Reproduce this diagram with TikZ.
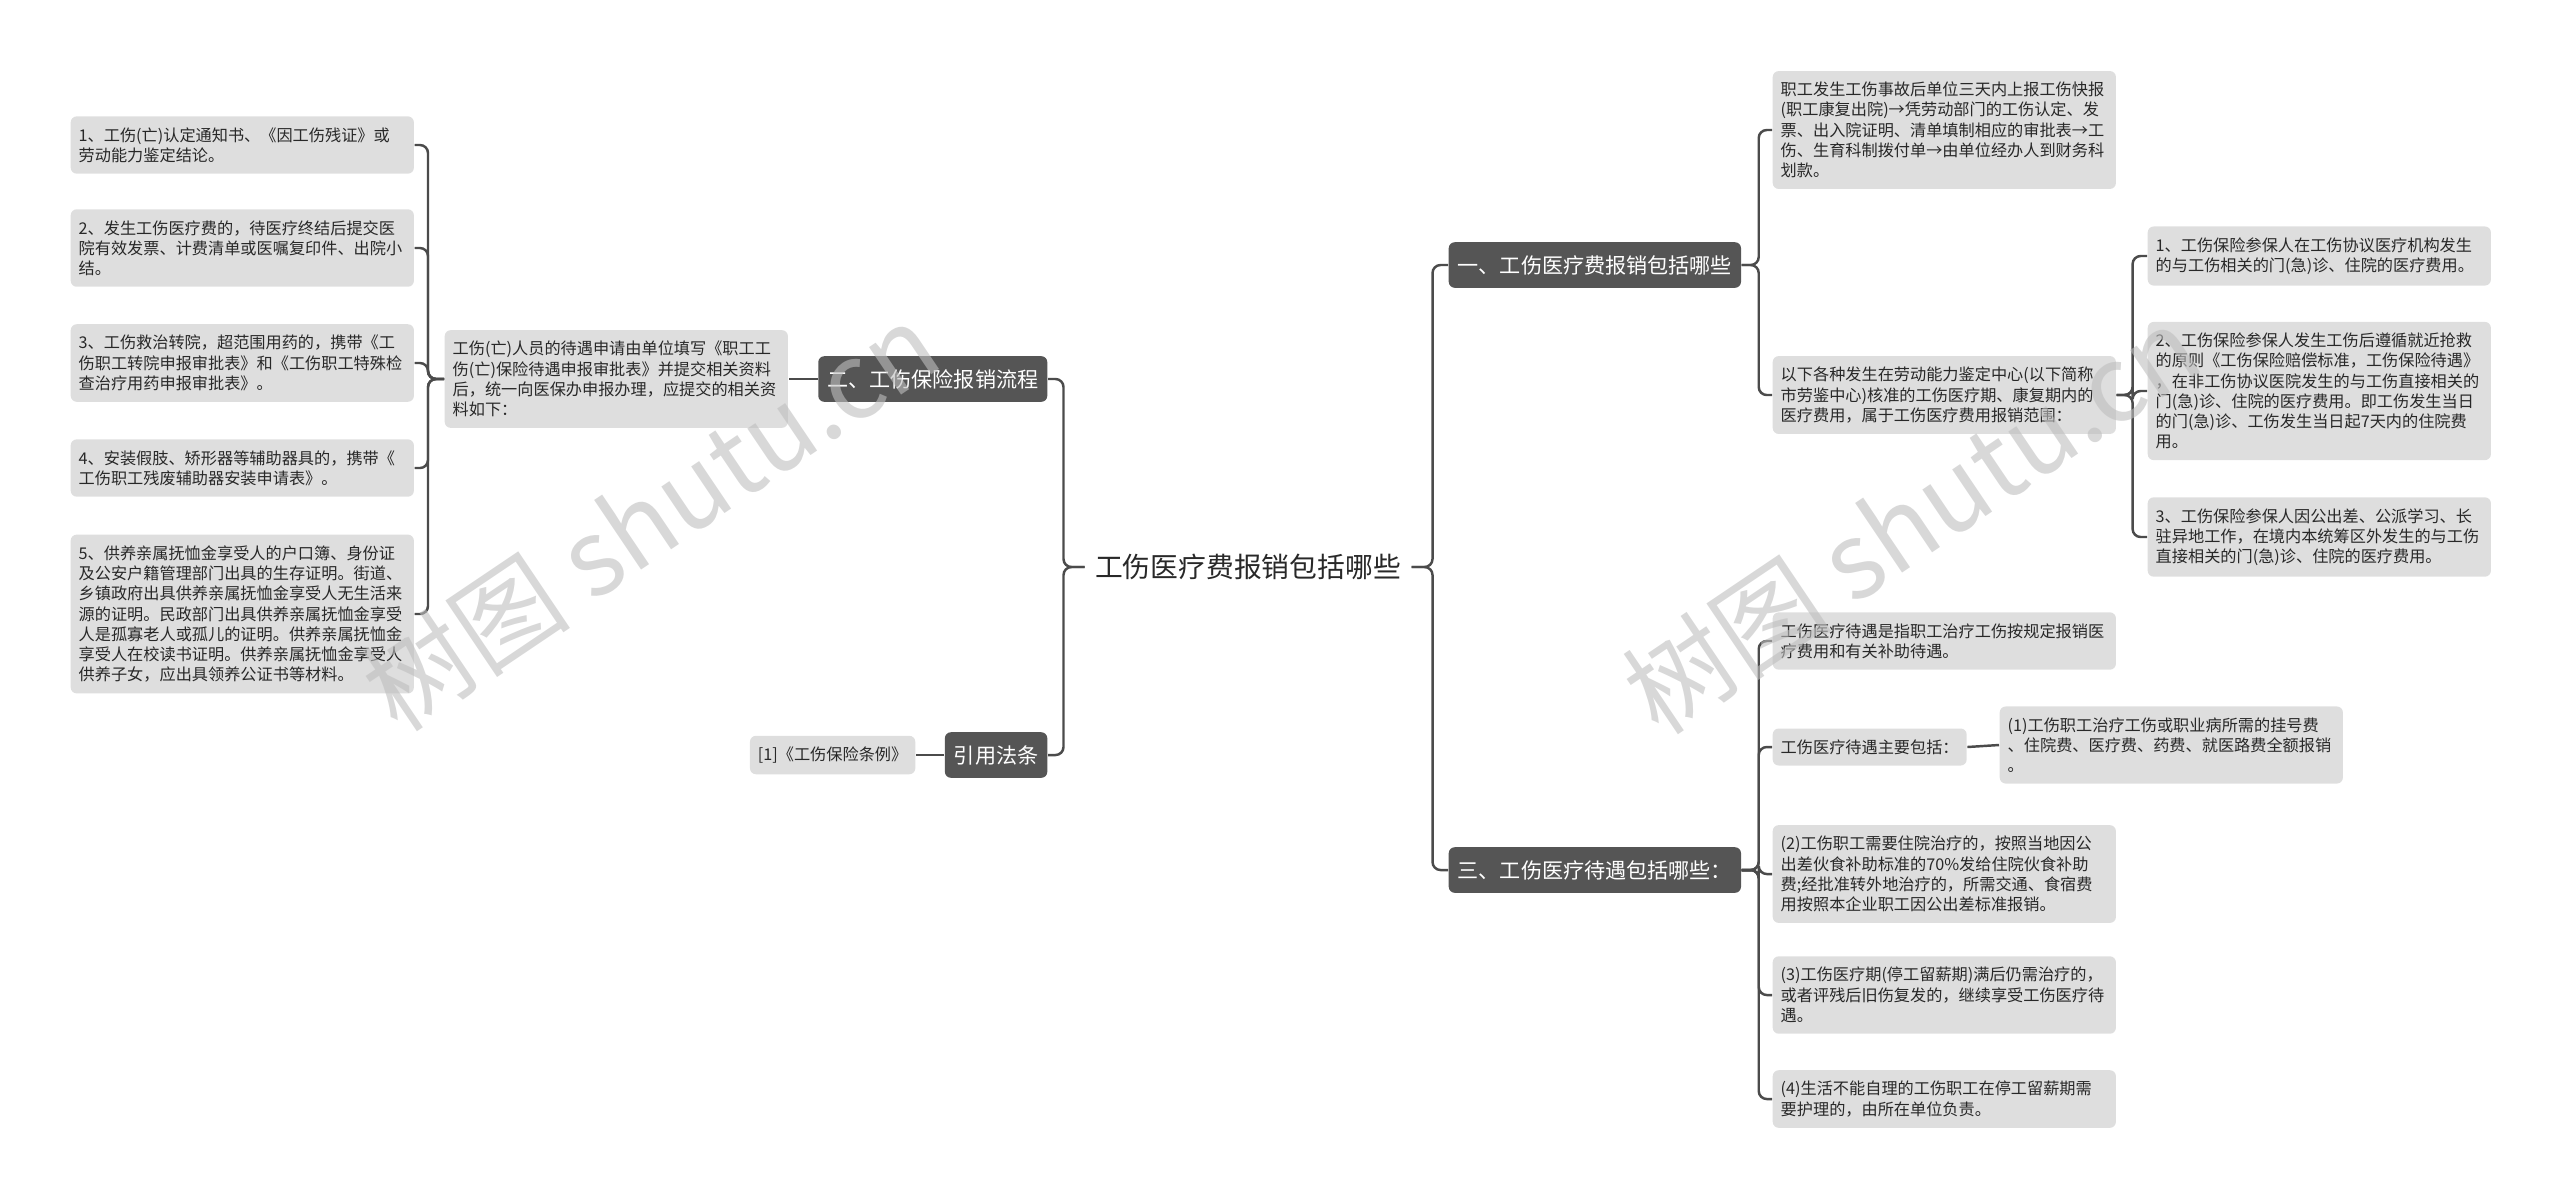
\documentclass[tikz,border=0pt]{standalone}
\usepackage{fontspec}
\usepackage{tikz}
\usetikzlibrary{positioning}
\newfontfamily\cjk{Noto Sans CJK SC}
\definecolor{leafgray}{RGB}{222,222,222}
\definecolor{topicgray}{RGB}{85,85,85}
\definecolor{linegray}{RGB}{75,75,75}
\definecolor{txtgray}{RGB}{40,40,40}
\definecolor{markgray}{RGB}{190,190,190}

\begin{document}
\begin{tikzpicture}[x=0.01cm,y=-0.01cm,
                leaf/.style={rectangle, rounded corners=0.6mm, fill=leafgray, text=txtgray, align=left,
                    inner xsep=0.08cm, inner ysep=0.11cm, font=\cjk\fontsize{4.6}{5.75}\selectfont},
                wide/.style={leaf, text width=3.27cm},
                topic/.style={rectangle, rounded corners=0.6mm, fill=topicgray, text=white,
                    inner xsep=0.09cm, inner ysep=0.13cm, font=\cjk\fontsize{6}{7}\selectfont},
                link/.style={draw=linegray, line width=0.7pt, rounded corners=0.8mm},
                stamp/.style={text=markgray, opacity=0.6, rotate=34, font=\cjk\fontsize{30}{30}\selectfont}]
            \useasboundingbox (0,0) rectangle (2560,1199);

            \node (root) [inner xsep=0.1cm, text=txtgray, font=\cjk\fontsize{7.9}{9}\selectfont] at (1248,567) {工伤医疗费报销包括哪些};

            \node (b2) [topic, anchor=east] at (1048,379) {二、工伤保险报销流程};
            \node (b2a) [wide, anchor=west] at (444,379) {工伤(亡)人员的待遇申请由单位填写《职工工\\伤(亡)保险待遇申报审批表》并提交相关资料\\后，统一向医保办申报办理，应提交的相关资\\料如下：};
            \node (p1) [wide, anchor=west] at (70,145) {1、工伤(亡)认定通知书、《因工伤残证》或\\劳动能力鉴定结论。};
            \node (p2) [wide, anchor=west] at (70,248) {2、发生工伤医疗费的，待医疗终结后提交医\\院有效发票、计费清单或医嘱复印件、出院小\\结。};
            \node (p3) [wide, anchor=west] at (70,363) {3、工伤救治转院，超范围用药的，携带《工\\伤职工转院申报审批表》和《工伤职工特殊检\\查治疗用药申报审批表》。};
            \node (p4) [wide, anchor=west] at (70,468) {4、安装假肢、矫形器等辅助器具的，携带《\\工伤职工残废辅助器安装申请表》。};
            \node (p5) [wide, anchor=west] at (70,614) {5、供养亲属抚恤金享受人的户口簿、身份证\\及公安户籍管理部门出具的生存证明。街道、\\乡镇政府出具供养亲属抚恤金享受人无生活来\\源的证明。民政部门出具供养亲属抚恤金享受\\人是孤寡老人或孤儿的证明。供养亲属抚恤金\\享受人在校读书证明。供养亲属抚恤金享受人\\供养子女，应出具领养公证书等材料。};

            \node (law) [topic, anchor=east] at (1048,755) {引用法条};
            \node (law1) [leaf, anchor=east] at (916,755) {[1]《工伤保险条例》};

            \node (b1) [topic, anchor=west] at (1448,265) {一、工伤医疗费报销包括哪些};
            \node (b1a) [wide, anchor=west] at (1772,130) {职工发生工伤事故后单位三天内上报工伤快报\\(职工康复出院)→凭劳动部门的工伤认定、发\\票、出入院证明、清单填制相应的审批表→工\\伤、生育科制拨付单→由单位经办人到财务科\\划款。};
            \node (b1b) [wide, anchor=west] at (1772,395) {以下各种发生在劳动能力鉴定中心(以下简称\\市劳鉴中心)核准的工伤医疗期、康复期内的\\医疗费用，属于工伤医疗费用报销范围：};
            \node (b1b1) [wide, anchor=west] at (2147,256) {1、工伤保险参保人在工伤协议医疗机构发生\\的与工伤相关的门(急)诊、住院的医疗费用。};
            \node (b1b2) [wide, anchor=west] at (2147,391) {2、工伤保险参保人发生工伤后遵循就近抢救\\的原则《工伤保险赔偿标准，工伤保险待遇》\\，在非工伤协议医院发生的与工伤直接相关的\\门(急)诊、住院的医疗费用。即工伤发生当日\\的门(急)诊、工伤发生当日起7天内的住院费\\用。};
            \node (b1b3) [wide, anchor=west] at (2147,537) {3、工伤保险参保人因公出差、公派学习、长\\驻异地工作，在境内本统筹区外发生的与工伤\\直接相关的门(急)诊、住院的医疗费用。};

            \node (b3) [topic, anchor=west] at (1448,870) {三、工伤医疗待遇包括哪些：};
            \node (b3a) [wide, anchor=west] at (1772,641) {工伤医疗待遇是指职工治疗工伤按规定报销医\\疗费用和有关补助待遇。};
            \node (b3b) [leaf, anchor=west] at (1772,747) {工伤医疗待遇主要包括：};
            \node (b3b1) [wide, anchor=west] at (1999,745) {(1)工伤职工治疗工伤或职业病所需的挂号费\\、住院费、医疗费、药费、就医路费全额报销\\。};
            \node (b3c) [wide, anchor=west] at (1772,874) {(2)工伤职工需要住院治疗的，按照当地因公\\出差伙食补助标准的70\%发给住院伙食补助\\费;经批准转外地治疗的，所需交通、食宿费\\用按照本企业职工因公出差标准报销。};
            \node (b3d) [wide, anchor=west] at (1772,995) {(3)工伤医疗期(停工留薪期)满后仍需治疗的，\\或者评残后旧伤复发的，继续享受工伤医疗待\\遇。};
            \node (b3e) [wide, anchor=west] at (1772,1099) {(4)生活不能自理的工伤职工在停工留薪期需\\要护理的，由所在单位负责。};

            \draw[link] (root.west) -- ++(-21,0) |- (b2.east);
            \draw[link] (root.west) -- ++(-21,0) |- (law.east);
            \draw[link] (root.east) -- ++(21,0) |- (b1.west);
            \draw[link] (root.east) -- ++(21,0) |- (b3.west);
            \draw[link] (b2.west) -- (b2a.east);
            \draw[link] (law.west) -- (law1.east);
            \foreach \i in {1,...,5}
                \draw[link] (b2a.west) -- ++(-16,0) |- (p\i.east);
            \foreach \n in {b1a,b1b}
                \draw[link] (b1.east) -- ++(17,0) |- (\n.west);
            \foreach \i in {1,2,3}
                \draw[link] (b1b.east) -- ++(16,0) |- (b1b\i.west);
            \foreach \n in {b3a,b3b,b3c,b3d,b3e}
                \draw[link] (b3.east) -- ++(17,0) |- (\n.west);
            \draw[link] (b3b.east) -- (b3b1.west);

            \node (mark1) [stamp] at (650,516) {树图 shutu.cn};
            \node (mark2) [stamp] at (1911,519) {树图 shutu.cn};
        \end{tikzpicture}
\end{document}
